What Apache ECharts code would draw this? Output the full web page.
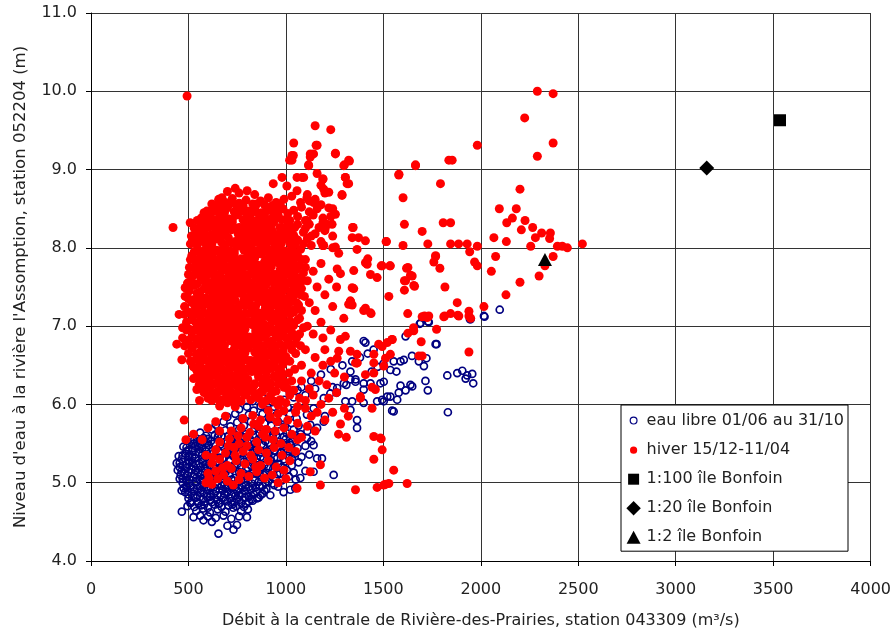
<!DOCTYPE html>
<html>
<head>
<meta charset="utf-8">
<script src="https://cdn.jsdelivr.net/npm/echarts@6/dist/echarts.min.js"></script>
<style>
  html, body { margin: 0; padding: 0; background: #fff; }
  #chart { width: 894px; height: 634px; }
</style>
</head>
<body>
<div id="chart"></div>
<script>
// Open-water season (01/06 - 31/10): flow (m3/s), level (m)
const openWaterCore = [
  [654,4.35],[731,4.40],[749,4.46],[700,4.45],[620,4.50],[577,4.52],
  [526,4.56],[560,4.58],[600,4.57],[640,4.55],[680,4.58],[720,4.54],[760,4.57],[800,4.56],
  [466,4.63],[540,4.64],[575,4.67],[610,4.62],[650,4.66],[690,4.63],[730,4.68],[770,4.64],[805,4.66],
  [510,4.74],[545,4.76],[580,4.72],[615,4.78],[655,4.73],[690,4.77],[725,4.72],[760,4.78],[795,4.73],[830,4.77],
  [483,4.88],[525,4.83],[560,4.87],[595,4.82],[630,4.86],[665,4.84],[700,4.88],[740,4.83],[775,4.86],[810,4.82],[851,4.80],[880,4.86],[920,4.84],
  [475,4.93],[510,4.96],[545,4.92],[580,4.97],[615,4.94],[650,4.98],[690,4.93],[725,4.96],[760,4.92],[795,4.97],[830,4.93],[865,4.96],[900,4.92],[940,4.97],[988,4.88],[1023,4.91],[1048,4.93],[960,4.95],
  [455,5.05],[490,5.02],[525,5.07],[560,5.03],[595,5.08],[630,5.04],[665,5.09],[700,5.02],[735,5.06],[770,5.03],[805,5.08],[840,5.04],[875,5.07],[910,5.02],[945,5.06],[980,5.03],[1015,5.08],[1074,5.06],[1050,5.04],
  [445,5.16],[480,5.12],[515,5.17],[550,5.13],[585,5.18],[620,5.12],[655,5.16],[690,5.13],[725,5.18],[760,5.14],[795,5.17],[830,5.12],[865,5.16],[900,5.13],[935,5.18],[970,5.12],[1005,5.16],[1040,5.13],[1100,5.15],[1142,5.14],[1245,5.10],
  [440,5.25],[470,5.22],[505,5.27],[540,5.23],[575,5.28],[610,5.22],[645,5.26],[680,5.23],[715,5.28],[750,5.24],[785,5.27],[820,5.22],[855,5.26],[890,5.23],[925,5.28],[960,5.24],[995,5.27],[1030,5.22],[1065,5.26],[1160,5.31],[1185,5.31],
  [450,5.34],[485,5.37],[520,5.32],[555,5.38],[590,5.33],[625,5.37],[660,5.32],[695,5.38],[730,5.34],[765,5.37],[800,5.32],[835,5.38],[870,5.33],[905,5.37],[940,5.32],[975,5.38],[1010,5.34],[1045,5.37],[1080,5.33],[1120,5.36],
  [474,5.46],[500,5.42],[535,5.47],[570,5.43],[605,5.48],[640,5.42],[675,5.46],[710,5.43],[745,5.48],[780,5.42],[815,5.46],[850,5.43],[885,5.48],[920,5.42],[955,5.46],[990,5.43],[1025,5.48],[1060,5.44],[1100,5.47],[1142,5.48],
  [510,5.55],[545,5.52],[577,5.57],[615,5.53],[650,5.58],[685,5.52],[720,5.56],[755,5.53],[790,5.58],[825,5.52],[860,5.56],[895,5.53],[930,5.58],[965,5.52],[1000,5.56],[1035,5.53],[1070,5.58],[1108,5.57],[1130,5.53],
  [560,5.64],[620,5.68],[655,5.62],[690,5.67],[725,5.63],[760,5.68],[795,5.62],[830,5.66],[865,5.63],[900,5.68],[935,5.62],[970,5.66],[1005,5.63],[1040,5.68],[1075,5.62],[1110,5.66],[1160,5.70],[1365,5.70],
  [640,5.74],[680,5.78],[715,5.72],[750,5.77],[785,5.73],[820,5.78],[855,5.72],[890,5.76],[925,5.73],[960,5.78],[995,5.72],[1030,5.76],[1065,5.73],[1125,5.74],[1194,5.78],[1365,5.80],
  [700,5.84],[740,5.88],[775,5.82],[810,5.87],[845,5.83],[880,5.88],[915,5.82],[950,5.86],[985,5.83],[1020,5.88],[1055,5.82],[1108,5.87],[1200,5.85],
  [760,5.94],[800,5.97],[835,5.92],[870,5.98],[905,5.93],[940,5.97],[975,5.92],[1010,5.96],[1045,5.93],[1142,5.95],[1331,5.93],[1545,5.92],[1553,5.91],[1831,5.90],
  [830,6.04],[880,6.08],[930,6.03],[990,6.06],[1040,6.09],[1080,6.03],[1194,6.08],[1228,6.14],[1305,6.04],[1340,6.04],[1399,6.02],[1468,6.04],[1494,6.06],[1502,6.04],[1520,6.10],[1536,6.10],[1571,6.06],[1579,6.15]
];

// Second pass through the densest open-water band
const openWaterFill = [
  [495,4.70],[530,4.69],[565,4.71],[600,4.68],[635,4.72],[670,4.69],[705,4.71],[745,4.70],[785,4.69],
  [500,4.80],[540,4.81],[575,4.79],[610,4.82],[645,4.78],[680,4.81],[715,4.80],[750,4.79],[790,4.81],[825,4.79],[860,4.81],
  [465,4.90],[495,4.91],[530,4.89],[565,4.90],[600,4.91],[640,4.89],[675,4.90],[710,4.91],[750,4.89],[785,4.90],[820,4.91],[850,4.89],[890,4.90],
  [470,5.00],[505,4.99],[540,5.01],[575,5.00],[610,4.99],[645,5.01],[680,5.00],[715,4.99],[755,5.01],[790,5.00],[825,4.99],[860,5.01],[895,5.00],[930,4.99],
  [460,5.10],[495,5.09],[530,5.11],[565,5.10],[600,5.09],[640,5.11],[675,5.10],[710,5.09],[745,5.11],[780,5.10],[815,5.09],[850,5.11],[885,5.10],[920,5.09],[955,5.11],
  [455,5.20],[490,5.19],[525,5.21],[560,5.20],[595,5.19],[630,5.21],[665,5.20],[700,5.19],[735,5.21],[770,5.20],[805,5.19],[840,5.21],[875,5.20],[910,5.19],[945,5.21],[980,5.20],
  [465,5.30],[500,5.29],[535,5.31],[570,5.30],[605,5.29],[640,5.31],[675,5.30],[710,5.29],[745,5.31],[780,5.30],[815,5.29],[850,5.31],[885,5.30],[920,5.29],[955,5.31],[990,5.30],[1030,5.31],
  [490,5.40],[520,5.41],[555,5.39],[590,5.40],[625,5.41],[660,5.39],[695,5.40],[730,5.41],[765,5.39],[800,5.40],[835,5.41],[870,5.39],[905,5.40],[940,5.41],[975,5.39],[1010,5.40],
  [525,5.50],[560,5.49],[595,5.51],[630,5.50],[665,5.49],[700,5.51],[735,5.50],[770,5.49],[805,5.51],[840,5.50],[875,5.49],[910,5.51],[945,5.50],[985,5.49],[1020,5.51],
  [590,5.60],[635,5.61],[670,5.59],[705,5.60],[740,5.61],[775,5.59],[810,5.60],[845,5.61],[880,5.59],[915,5.60],[950,5.61],[990,5.59],[1050,5.60]
];

// Open-water points in the lower-left part of the cloud, between the rows above
const openWaterLowFill = [
  [515,4.75],[550,4.74],[585,4.76],[620,4.75],[660,4.74],[700,4.76],[735,4.75],[770,4.74],[810,4.76],
  [500,4.85],[545,4.84],[580,4.86],[615,4.85],[650,4.84],[685,4.86],[720,4.85],[760,4.84],[795,4.86],[835,4.85],[870,4.84],
  [490,4.95],[525,4.94],[560,4.96],[595,4.95],[630,4.94],[670,4.96],[705,4.95],[740,4.94],[775,4.96],[810,4.95],[845,4.94],[880,4.96],
  [470,5.05],[505,5.04],[540,5.06],[575,5.05],[610,5.04],[645,5.06],[685,5.05],[720,5.04],
  [465,5.15],[500,5.14],[535,5.16],[570,5.15],[605,5.14],
  [455,5.25],[490,5.24],[520,5.26],[555,5.25],[590,5.24],
  [470,5.35],[500,5.34],[535,5.36],[570,5.35],
  [490,5.45],[520,5.44],[555,5.46],[590,5.45],
  [530,5.55],[560,5.54],[600,5.56]
];

// Open-water points above the main cloud, toward higher flows
const openWaterTail = [
  [1263,6.21],[1297,6.27],[1331,6.32],[1357,6.29],[1357,6.32],[1399,6.27],[1399,6.19],[1434,6.27],[1485,6.27],[1502,6.29],
  [1331,6.42],[1408,6.79],[1399,6.81],[1553,6.55],[1588,6.55],[1605,6.57],[1567,6.42],[1536,6.44],[1588,6.24],[1614,6.18],
  [1639,6.25],[1648,6.23],[1647,6.62],[1682,6.55],[1708,6.49],[1721,6.59],[1716,6.30],[1728,6.18],[1614,6.87],[1773,6.77],
  [1768,6.77],[1828,6.37],[1879,6.40],[1905,6.43],[1930,6.37],[1956,6.39],[1922,6.33],[1961,6.27],[1687,7.03],[1733,7.05],
  [1730,7.06],[1691,7.04],[1948,7.09],[1944,7.09],[2016,7.13],[2019,7.12],[2097,7.21],
  [1080,6.22],[1130,6.30],[1180,6.38],[1230,6.45],[1290,6.50],[1340,6.55],[1380,6.60],[1420,6.65],[1450,6.70],
  [1260,6.15],[1310,6.25],[1440,6.42],[1470,6.48],[1500,6.52],[1100,6.12],[1150,6.20],[1060,6.18],[1020,6.15],[1240,6.22]
];

// Winter season (15/12 - 11/04): main cloud
const winterCore = [
  [700,8.72],[740,8.76],[801,8.73],[760,8.70],[935,8.82],[980,8.90],[1005,8.79],[1057,8.90],[1091,8.90],[672,8.64],[840,8.68],
  [620,8.56],[655,8.62],[690,8.58],[725,8.63],[760,8.57],[795,8.61],[830,8.56],[870,8.60],[910,8.64],[950,8.58],[990,8.62],[1030,8.66],[1075,8.58],[1110,8.68],[1150,8.62],
  [594,8.47],[630,8.50],[665,8.45],[700,8.51],[735,8.46],[770,8.52],[805,8.47],[840,8.50],[875,8.45],[915,8.52],[950,8.47],[985,8.50],[1040,8.48],[1080,8.52],[1120,8.46],[1160,8.50],
  [565,8.38],[600,8.42],[640,8.36],[675,8.41],[710,8.37],[745,8.42],[780,8.36],[815,8.40],[850,8.35],[890,8.41],[925,8.37],[960,8.42],[1000,8.36],[1060,8.40],[1100,8.35],[1140,8.42],[1190,8.38],
  [421,8.26],[509,8.32],[560,8.26],[601,8.26],[585,8.31],[620,8.28],[655,8.33],[690,8.27],[725,8.32],[760,8.26],[795,8.31],[830,8.27],[865,8.33],[900,8.28],[935,8.32],[970,8.26],[1010,8.30],[1045,8.26],[1120,8.30],[1170,8.26],
  [545,8.18],[580,8.22],[615,8.16],[650,8.21],[685,8.17],[720,8.23],[755,8.18],[790,8.22],[825,8.16],[860,8.21],[895,8.17],[930,8.22],[965,8.18],[1000,8.21],[1040,8.16],[1090,8.20],[1150,8.18],[1200,8.22],
  [530,8.08],[565,8.12],[600,8.06],[635,8.11],[670,8.07],[705,8.13],[740,8.08],[775,8.12],[810,8.06],[845,8.11],[880,8.07],[915,8.12],[950,8.08],[985,8.11],[1020,8.06],[1060,8.10],[1110,8.12],[1180,8.08],
  [517,7.90],[577,7.96],[545,7.98],[610,8.02],[645,7.97],[680,8.01],[715,7.96],[750,8.02],[785,7.97],[820,8.01],[855,7.96],[890,8.02],[925,7.97],[960,8.01],[995,7.96],[1030,8.02],[1075,7.98],[1130,8.03],[1190,8.03],[1240,8.00],
  [560,7.88],[595,7.92],[630,7.86],[665,7.91],[700,7.87],[735,7.92],[770,7.86],[805,7.91],[840,7.87],[875,7.92],[910,7.86],[945,7.91],[980,7.87],[1015,7.92],[1055,7.88],[1100,7.85],
  [526,7.75],[540,7.82],[575,7.78],[610,7.83],[645,7.77],[680,7.82],[715,7.76],[750,7.81],[785,7.77],[820,7.83],[855,7.78],[890,7.82],[925,7.76],[960,7.81],[995,7.77],[1030,7.82],[1070,7.78],
  [500,7.66],[550,7.72],[585,7.67],[620,7.71],[655,7.66],[690,7.72],[725,7.67],[760,7.71],[795,7.66],[830,7.72],[865,7.67],[900,7.71],[935,7.66],[970,7.72],[1005,7.67],[1045,7.71],[1090,7.68],
  [515,7.58],[565,7.62],[600,7.56],[635,7.61],[670,7.57],[705,7.63],[740,7.58],[775,7.62],[810,7.56],[845,7.61],[880,7.57],[915,7.62],[950,7.58],[985,7.61],[1020,7.56],[1060,7.62],[1110,7.58],
  [483,7.49],[530,7.52],[580,7.48],[615,7.53],[650,7.47],[685,7.52],[720,7.46],[755,7.51],[790,7.47],[825,7.53],[860,7.48],[895,7.52],[930,7.46],[965,7.51],[1000,7.47],[1040,7.52],[1080,7.48],
  [483,7.38],[545,7.42],[590,7.36],[625,7.41],[660,7.37],[695,7.43],[730,7.38],[765,7.42],[800,7.36],[835,7.41],[870,7.37],[905,7.42],[940,7.38],[975,7.41],[1010,7.36],[1050,7.42],[1095,7.38],
  [517,7.30],[555,7.28],[600,7.32],[635,7.26],[670,7.31],[705,7.27],[740,7.33],[775,7.28],[810,7.32],[845,7.26],[880,7.31],[915,7.27],[950,7.32],[985,7.28],[1025,7.31],[1065,7.27],
  [452,7.15],[500,7.18],[540,7.22],[580,7.17],[615,7.21],[650,7.16],[685,7.22],[720,7.17],[755,7.21],[790,7.16],[825,7.22],[860,7.17],[895,7.21],[930,7.16],[965,7.22],[1000,7.17],[1040,7.21],
  [520,7.08],[560,7.12],[595,7.06],[630,7.11],[665,7.07],[700,7.13],[735,7.08],[770,7.12],[805,7.06],[840,7.11],[875,7.07],[910,7.12],[945,7.08],[980,7.11],[1020,7.07],[1070,7.10],
  [470,6.98],[505,6.96],[545,7.02],[580,6.97],[615,7.01],[650,6.96],[685,7.02],[720,6.97],[755,7.01],[790,6.96],[825,7.02],[860,6.97],[895,7.01],[930,6.96],[965,7.02],[1000,6.97],[1040,7.01],[1090,6.98],
  [517,6.86],[560,6.92],[600,6.86],[635,6.91],[670,6.87],[705,6.93],[740,6.88],[775,6.92],[810,6.86],[845,6.91],[880,6.87],[915,6.92],[950,6.88],[985,6.91],[1025,6.87],
  [440,6.77],[500,6.82],[540,6.78],[580,6.83],[615,6.77],[650,6.82],[685,6.76],[720,6.81],[755,6.77],[790,6.83],[825,6.78],[860,6.82],[895,6.76],[930,6.81],[970,6.77],[1010,6.82],[1050,6.78],
  [466,6.57],[520,6.72],[560,6.67],[595,6.71],[630,6.66],[665,6.72],[700,6.67],[735,6.71],[770,6.66],[805,6.72],[840,6.67],[875,6.71],[910,6.66],[945,6.72],[985,6.67],[1030,6.70],
  [540,6.58],[575,6.62],[610,6.56],[645,6.61],[680,6.57],[715,6.63],[750,6.58],[785,6.62],[820,6.56],[855,6.61],[890,6.57],[925,6.62],[960,6.58],[1000,6.61],
  [525,6.48],[560,6.52],[595,6.46],[630,6.51],[665,6.47],[700,6.53],[735,6.48],[770,6.52],[805,6.46],[840,6.51],[875,6.47],[910,6.52],[945,6.48],[985,6.51],
  [545,6.42],[580,6.37],[615,6.41],[650,6.36],[685,6.42],[720,6.37],[755,6.41],[790,6.36],[825,6.42],[860,6.37],[900,6.41],[940,6.36],[975,6.42],
  [526,6.33],[560,6.28],[595,6.32],[630,6.26],[665,6.31],[700,6.27],[735,6.33],[770,6.28],[805,6.32],[840,6.26],[880,6.31],[920,6.27],[960,6.32],[1000,6.28],
  [543,6.19],[575,6.18],[610,6.22],[645,6.16],[680,6.21],[715,6.17],[750,6.23],[790,6.18],[830,6.22],[870,6.16],[910,6.21],[950,6.17],[990,6.22],[1040,6.18],
  [557,6.05],[600,6.08],[640,6.12],[675,6.06],[710,6.11],[750,6.07],[790,6.12],[860,6.08],[920,6.11],[970,6.06],[1020,6.12],[1070,6.08],
  [660,5.98],[700,6.02],[740,5.97],[880,6.00],[960,5.99],[1000,6.02],[1060,5.97],
  [478,5.80],[487,5.55],[526,5.62]
];

// Winter cloud, points lying between the rows above
const winterFill = [
  [640,8.55],[675,8.54],[710,8.56],[745,8.55],[780,8.54],[850,8.56],[890,8.55],[930,8.54],[970,8.56],
  [580,8.45],[615,8.44],[650,8.46],[685,8.45],[755,8.44],[790,8.46],[825,8.45],[860,8.44],[895,8.46],[935,8.45],[1010,8.44],
  [545,8.35],[580,8.34],[620,8.36],[655,8.35],[690,8.34],[725,8.36],[795,8.35],[830,8.34],[870,8.36],[905,8.35],[940,8.34],[980,8.36],[1020,8.35],
  [530,8.25],[565,8.24],[635,8.25],[670,8.26],[705,8.24],[740,8.25],[775,8.26],[810,8.24],[845,8.25],[880,8.26],[915,8.24],[985,8.25],[1025,8.26],
  [515,8.15],[550,8.14],[585,8.16],[620,8.15],[655,8.14],[690,8.16],[760,8.15],[795,8.14],[830,8.16],[865,8.15],[900,8.14],[935,8.16],[970,8.15],[1010,8.14],
  [510,8.05],[545,8.04],[585,8.06],[620,8.05],[690,8.04],[725,8.06],[760,8.05],[795,8.04],[830,8.06],[865,8.05],[900,8.04],[940,8.06],[975,8.05],[1045,8.04],
  [530,7.95],[560,7.94],[595,7.96],[630,7.95],[665,7.94],[700,7.96],[735,7.95],[805,7.94],[840,7.96],[875,7.95],[910,7.94],[945,7.96],[980,7.95],[1015,7.94],
  [510,7.85],[545,7.84],[580,7.86],[615,7.85],[650,7.84],[685,7.86],[720,7.85],[755,7.84],[790,7.86],[825,7.85],[895,7.84],[930,7.86],[965,7.85],[1000,7.84],[1040,7.86],
  [505,7.75],[565,7.74],[600,7.76],[635,7.75],[670,7.74],[705,7.76],[740,7.75],[775,7.74],[810,7.76],[845,7.75],[880,7.74],[915,7.76],[985,7.75],[1020,7.74],
  [525,7.65],[560,7.64],[595,7.66],[630,7.65],[665,7.64],[735,7.66],[770,7.65],[805,7.64],[840,7.66],[875,7.65],[910,7.64],[945,7.66],[980,7.65],[1025,7.64],
  [495,7.55],[545,7.54],[585,7.56],[620,7.55],[655,7.54],[690,7.56],[725,7.55],[760,7.54],[795,7.56],[865,7.55],[900,7.54],[935,7.56],[970,7.55],[1005,7.54],[1045,7.56],
  [505,7.45],[560,7.44],[600,7.46],[635,7.45],[670,7.44],[705,7.46],[740,7.45],[775,7.44],[810,7.46],[845,7.45],[880,7.44],[950,7.46],[985,7.45],[1025,7.44],
  [500,7.35],[530,7.34],[570,7.36],[610,7.35],[645,7.34],[680,7.36],[715,7.35],[785,7.34],[820,7.36],[855,7.35],[890,7.34],[925,7.36],[960,7.35],[995,7.34],[1035,7.36],
  [480,7.25],[535,7.24],[575,7.26],[615,7.25],[650,7.24],[685,7.26],[720,7.25],[755,7.24],[790,7.26],[825,7.25],[895,7.24],[930,7.26],[965,7.25],[1005,7.24],
  [480,7.15],[520,7.14],[560,7.16],[600,7.15],[635,7.14],[670,7.16],[705,7.15],[740,7.14],[810,7.16],[845,7.15],[880,7.14],[915,7.16],[950,7.15],[985,7.14],[1025,7.16],
  [490,7.05],[540,7.04],[580,7.06],[615,7.05],[650,7.04],[685,7.06],[720,7.05],[755,7.04],[790,7.06],[825,7.05],[860,7.04],[930,7.06],[965,7.05],[1005,7.04],
  [490,6.95],[525,6.94],[565,6.96],[600,6.95],[635,6.94],[670,6.96],[705,6.95],[740,6.94],[775,6.96],[845,6.95],[880,6.94],[915,6.96],[950,6.95],[985,6.94],[1020,6.96],
  [470,6.85],[540,6.84],[580,6.86],[615,6.85],[650,6.84],[685,6.86],[720,6.85],[755,6.84],[790,6.86],[825,6.85],[860,6.84],[895,6.86],[965,6.85],[1005,6.84],
  [480,6.75],[520,6.74],[560,6.76],[600,6.75],[635,6.74],[670,6.76],[740,6.75],[775,6.74],[810,6.76],[845,6.75],[880,6.74],[915,6.76],[950,6.75],[990,6.74],
  [500,6.65],[540,6.64],[580,6.66],[615,6.65],[650,6.64],[685,6.66],[720,6.65],[755,6.64],[790,6.66],[860,6.65],[895,6.64],[930,6.66],[965,6.65],
  [510,6.55],[560,6.54],[595,6.56],[630,6.55],[665,6.54],[700,6.56],[735,6.55],[770,6.54],[805,6.56],[840,6.55],[875,6.54],[945,6.56],[980,6.55],
  [540,6.45],[575,6.44],[610,6.46],[645,6.45],[680,6.44],[715,6.46],[750,6.45],[785,6.44],[820,6.46],[855,6.45],[890,6.44],[925,6.46],[960,6.45],
  [545,6.35],[580,6.34],[615,6.36],[650,6.35],[685,6.34],[720,6.36],[755,6.35],[790,6.34],[860,6.35],[900,6.34],[940,6.36],[980,6.35],
  [555,6.25],[590,6.24],[625,6.26],[660,6.25],[695,6.24],[730,6.26],[765,6.25],[800,6.24],[840,6.26],[880,6.25],[920,6.24],[960,6.26],
  [580,6.15],[620,6.14],[655,6.16],[690,6.15],[725,6.14],[760,6.16],[800,6.15],[840,6.14],[880,6.16],[930,6.15],
  [620,6.05],[660,6.04],[695,6.06],[730,6.05],[770,6.04],[820,6.06],[900,6.05],[940,6.04],
  [1015,8.20],[1045,8.12],[1030,8.00],[1050,7.93],[1035,7.80],[1055,7.73],[1040,7.62],[1060,7.50],[1035,7.40],[1055,7.30],
  [1040,7.18],[1060,7.08],[1030,6.92],[1055,6.85],[1025,6.75],[1050,6.65],[1020,6.55],[1045,6.45],[1015,6.40],[1030,6.30],
  [1010,6.20],[1075,7.40],[1080,7.20],[1070,6.90],[1080,7.85],[1090,8.05],[1085,7.58],[1075,6.75]
];

// Winter points mixed into the open-water cloud
const winterLow = [
  [590,5.00],[620,4.98],[650,5.05],[700,5.02],[730,4.97],[760,5.04],[600,5.12],[640,5.15],[680,5.10],[720,5.18],[770,5.12],[810,5.08],[850,5.14],[890,5.06],
  [620,5.25],[660,5.30],[700,5.22],[745,5.28],[790,5.24],[830,5.30],[870,5.22],[910,5.28],[950,5.20],[990,5.16],
  [590,5.35],[640,5.42],[690,5.38],[735,5.45],[780,5.40],[820,5.35],[860,5.42],[900,5.38],[940,5.45],[980,5.35],[1020,5.28],
  [660,5.52],[710,5.56],[760,5.50],[800,5.58],[850,5.52],[895,5.58],[935,5.55],[975,5.50],[1015,5.45],[1050,5.40],
  [720,5.66],[770,5.70],[815,5.64],[860,5.72],[900,5.68],[945,5.66],[990,5.70],[1030,5.62],[1080,5.58],
  [780,5.82],[830,5.86],[870,5.80],[920,5.84],[960,5.88],[1010,5.80],[1060,5.76],[1110,5.72],[1150,5.66],[1050,5.90],[1100,5.95],
  [570,5.55],[1000,5.05],[960,5.00],[1057,4.93],[1177,4.97],[1125,5.14],[1177,5.23],
  [605,5.06],[675,5.19],[740,5.35],[800,5.47],[880,5.62],[955,5.78],[625,5.33],[705,5.47],[755,5.60],[835,5.75],
  [910,5.92],[990,5.92],[640,5.78],[690,5.85],[600,5.70],[660,5.66],[845,5.20],[930,5.10],[1060,5.55],[1130,5.85],
  [1357,4.91],[1468,4.94],[1502,4.97],[1528,4.99],[1511,4.98],[1622,4.99],[1553,5.16],[1451,5.30],[1494,5.42],
  [1485,5.57],[1451,5.59],[1489,5.56],[1442,5.95]
];

// Winter points at higher flows, right of the main cloud
const winterRight = [
  [1100,6.05],[1140,6.12],[1180,6.00],[1220,6.08],[1260,6.15],[1300,5.95],[1320,5.85],[1280,5.75],[1240,5.90],[1200,5.80],
  [1160,5.90],[1120,6.20],[1170,6.30],[1210,6.25],[1250,6.40],[1300,6.35],[1130,6.40],[1080,6.30],[1230,6.55],[1190,6.50],
  [1150,6.60],[1100,6.70],[1200,6.70],[1080,6.50],[1270,5.62],[1310,5.58],
  [1060,7.90],[1100,7.75],[1140,7.70],[1180,7.80],[1220,7.60],[1160,7.50],[1200,7.40],[1120,7.30],[1150,7.20],[1180,7.05],
  [1240,7.25],[1260,7.50],[1110,7.00],[1140,6.90],[1190,6.85],[1230,6.95],[1100,8.25],[1130,8.15],[1060,8.30],[1210,8.30],
  [1230,8.40],[1240,8.15],[1180,8.55],[1120,8.60],[1200,8.70],[1180,8.80],[1160,8.95],[1240,8.50],
  [1160,9.31],[1142,9.20],[1125,9.16],[1031,9.18],[1019,9.12],[1117,9.05],[1254,9.21],[1297,9.05],[1322,9.12],
  [1190,8.32],[1203,8.26],[1108,8.35],[1254,8.43],[1220,8.51],[1194,8.75],[1220,8.71],[1288,8.67],[1305,8.90],[1314,8.82],
  [1190,8.88],[1057,8.73],[1108,8.64],[1142,8.58],[1082,8.90],[1342,8.26],[1237,8.30],[1254,8.01],[1194,8.03],
  [1263,7.73],[1280,7.67],[1348,7.48],[1331,7.32],[1340,7.27],[1399,7.20],[1434,7.17],[1297,7.10],
  [1280,6.83],[1305,6.87],[1271,6.68],[1263,6.59],[1357,6.53],[1365,6.64],[1365,6.53],[1331,6.68],
  [1451,6.64],[1451,6.53],[1502,6.49],[1408,6.38],[1451,6.40],[1459,6.19],[1382,6.08],[1442,6.22],
  [1476,6.77],[1494,6.74],[1520,6.79],[1545,6.83],[1536,6.64],[1511,6.59],[1626,6.91],[1656,6.94],[1773,6.96],
  [1694,6.80],[1682,6.62],[1699,6.62],[1939,6.67]
];

// Isolated winter points
const winterSparse = [
  [493,9.94],[1150,9.56],[1230,9.51],[1040,9.34],[1155,9.31],[1038,9.18],[1125,9.20],[1254,9.20],[1031,9.12],
  [1116,9.06],[1300,9.06],[1326,9.11],[1665,9.06],[1853,9.12],[1982,9.31],[1579,8.93],[1793,8.82],[1601,8.64],
  [1608,8.30],[1699,8.21],[1807,8.32],[1845,8.32],[1516,8.08],[1601,8.03],[1728,8.05],[1845,8.05],[1886,8.05],
  [1930,8.05],[1982,8.02],[1768,7.90],[1305,8.90],[1322,8.82],[1190,8.88],[1288,8.68],[1345,8.26],[1340,8.13],
  [1373,8.13],[1408,8.09],[1365,7.98],[1190,8.03],[1271,7.93],[1420,7.86],
  [2290,10.00],[2371,9.97],[2225,9.66],[2371,9.34],[2290,9.17],[2201,8.75],[2095,8.50],[2182,8.50],[2162,8.38],
  [2133,8.32],[2227,8.35],[2266,8.26],[2208,8.23],[2312,8.19],[2357,8.19],[2353,8.12],[2280,8.13],[2067,8.13],
  [2131,8.08],[2256,8.02],[2393,8.02],[2418,8.02],[2444,8.00],[2521,8.05],[2371,7.89],[2329,7.77],[2076,7.89],
  [2299,7.64],[2054,7.70],[2201,7.56],[2129,7.40],[2016,7.25],[1943,7.95],[1968,7.82],[1982,7.77],
  [1768,7.89],[1759,7.82],[1790,7.74],[1619,7.74],[1639,7.65],[1608,7.58],[1608,7.46],[1656,7.52],[1816,7.50],
  [1879,7.30],[1845,7.16],[1887,7.13],[1939,7.19],[1948,7.10],[1810,7.12],[1625,7.16],[1699,7.12],[1725,7.11],
  [1655,6.98],[1408,7.23],[1437,7.16],[1711,7.13],[1733,7.13],[1814,7.13],[1882,7.14],[1939,7.13],
  [1626,7.75],[1648,7.64],[1660,7.51],[1614,7.58],[1528,7.38],[1348,7.71],[1417,7.79],[1434,7.66],[1468,7.62],
  [1494,7.77],[1533,7.77],[1340,7.49],[1331,7.32],[1322,7.28],[1514,8.08],[1536,7.77],[1489,7.77],[1408,7.81],
  [1580,8.94],[1836,9.12],[1665,9.05],[1382,6.10],[1365,6.53],[1545,6.83]
];

// Scale-model runs, île Bonfoin
const bonfoin100 = [[3535, 9.63]];
const bonfoin20 = [[3159, 9.02]];
const bonfoin2 = [[2329, 7.85]];

const seriesNames = [
  'eau libre 01/06 au 31/10',
  'hiver 15/12-11/04',
  '1:100 île Bonfoin',
  '1:20 île Bonfoin',
  '1:2 île Bonfoin'
];

const xTitle = 'Débit à la centrale de Rivière-des-Prairies, station 043309 (m³/s)';
const yTitle = "Niveau d'eau à la rivière l'Assomption, station 052204 (m)";

const FONT = 'DejaVu Sans';
const chart = echarts.init(document.getElementById('chart'), null, { renderer: 'canvas' });

// Legend icons: padded paths keep small markers inside a 16x16 box
const icons = {
  ring: 'path://M0,0M16,16M4.6,8a3.4,3.4 0 1,0 6.8,0a3.4,3.4 0 1,0 -6.8,0z',
  dot: 'path://M0,0M16,16M4.4,8a3.6,3.6 0 1,0 7.2,0a3.6,3.6 0 1,0 -7.2,0z',
  square: 'path://M0,0M16,16M2.5,2.5h11v11h-11z',
  diamond: 'path://M0,0M16,16M8,0.8L15.2,8L8,15.2L0.8,8z',
  triangle: 'path://M0,0M16,16M8,1.5L15,14.5H1z'
};

chart.setOption({
  animation: false,
  backgroundColor: '#ffffff',
  textStyle: { fontFamily: FONT },
  grid: { left: 91, right: 23, top: 13, bottom: 72, show: false },
  xAxis: {
    type: 'value', min: 0, max: 4000, interval: 500,
    name: xTitle, nameLocation: 'middle', nameGap: 52,
    nameTextStyle: { fontSize: 16, color: '#222', fontFamily: FONT },
    axisLine: { onZero: false, lineStyle: { color: '#000', width: 1 } },
    axisTick: { show: true, length: 5, lineStyle: { color: '#000' } },
    axisLabel: { fontSize: 16, color: '#222', margin: 21, fontFamily: FONT,
      formatter: v => String(v) },
    splitLine: { show: true, lineStyle: { color: '#333', width: 1 } }
  },
  yAxis: {
    type: 'value', min: 4, max: 11, interval: 1,
    name: yTitle, nameLocation: 'middle', nameGap: 62, nameRotate: 90,
    nameTextStyle: { fontSize: 16.5, color: '#222', fontFamily: FONT },
    axisLine: { onZero: false, lineStyle: { color: '#000', width: 1 } },
    axisTick: { show: true, length: 5, lineStyle: { color: '#000' } },
    axisLabel: { fontSize: 16, color: '#222', margin: 14, fontFamily: FONT,
      formatter: v => v.toFixed(1) },
    splitLine: { show: true, lineStyle: { color: '#333', width: 1 } }
  },
  legend: {
    orient: 'vertical', left: 621, top: 405,
    padding: [7, 4, 6, 4],
    itemWidth: 16, itemHeight: 16, itemGap: 13,
    backgroundColor: '#fff', borderColor: '#000', borderWidth: 1, borderRadius: 0,
    textStyle: { fontSize: 16, color: '#222', fontFamily: FONT },
    data: [
      { name: seriesNames[0], icon: icons.ring, itemStyle: { color: '#fff', borderColor: '#000080', borderWidth: 1.2, opacity: 1 } },
      { name: seriesNames[1], icon: icons.dot, itemStyle: { color: '#ff0000', borderWidth: 0, opacity: 1 } },
      { name: seriesNames[2], icon: icons.square, itemStyle: { color: '#000', borderWidth: 0, opacity: 1 } },
      { name: seriesNames[3], icon: icons.diamond, itemStyle: { color: '#000', borderWidth: 0, opacity: 1 } },
      { name: seriesNames[4], icon: icons.triangle, itemStyle: { color: '#000', borderWidth: 0, opacity: 1 } }
    ]
  },
  series: [
    {
      name: seriesNames[0], type: 'scatter', silent: true,
      symbol: 'circle', symbolSize: 7,
      itemStyle: { color: 'rgba(0,0,0,0)', borderColor: '#000080', borderWidth: 1.7, opacity: 1 },
      data: openWaterCore.concat(openWaterFill, openWaterLowFill, openWaterTail)
    },
    {
      name: seriesNames[1], type: 'scatter', silent: true,
      symbol: 'circle', symbolSize: 9,
      itemStyle: { color: '#ff0000', opacity: 1 },
      data: winterCore.concat(winterFill, winterLow, winterRight, winterSparse)
    },
    {
      name: seriesNames[2], type: 'scatter', silent: true,
      symbol: 'rect', symbolSize: 12, itemStyle: { color: '#000', opacity: 1 }, data: bonfoin100
    },
    {
      name: seriesNames[3], type: 'scatter', silent: true,
      symbol: 'diamond', symbolSize: [15, 15], itemStyle: { color: '#000', opacity: 1 }, data: bonfoin20
    },
    {
      name: seriesNames[4], type: 'scatter', silent: true,
      symbol: 'triangle', symbolSize: [14, 13], itemStyle: { color: '#000', opacity: 1 }, data: bonfoin2
    }
  ]
});
</script>
</body>
</html>
